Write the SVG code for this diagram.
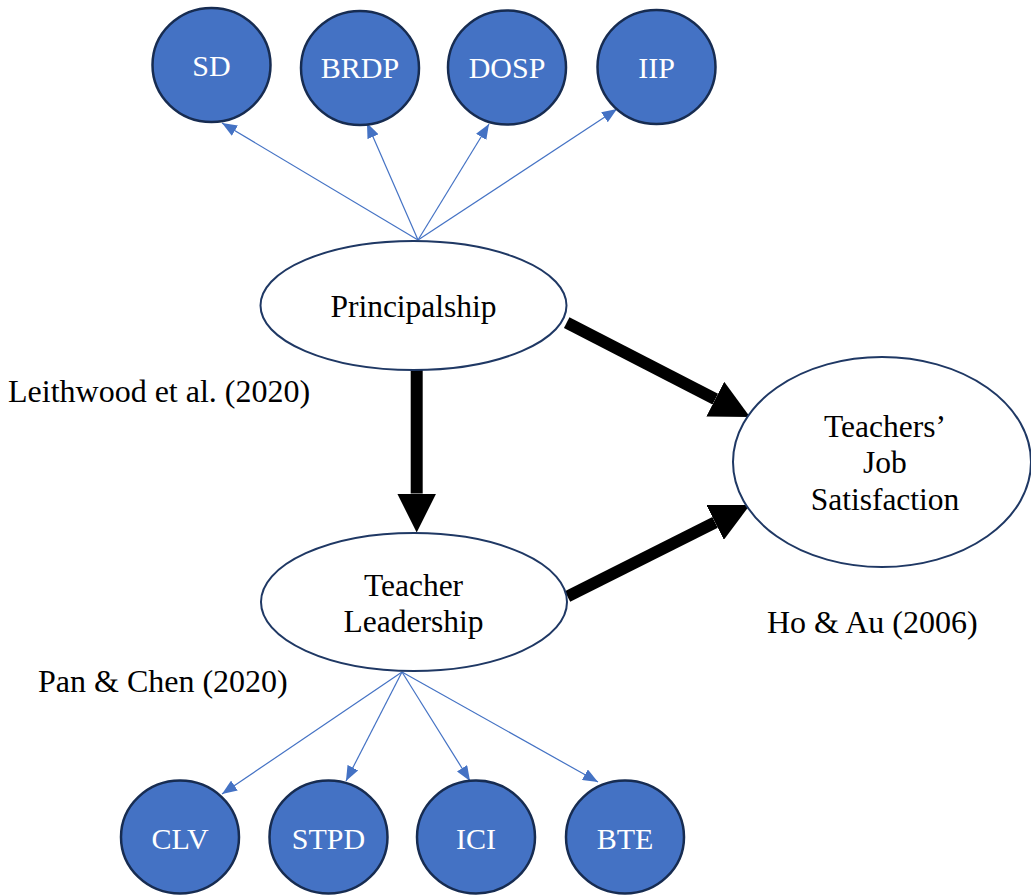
<svg xmlns="http://www.w3.org/2000/svg" width="1031" height="895" viewBox="0 0 1031 895">
  <style>
    .circ { fill: #4472C4; stroke: #172C51; stroke-width: 2.5; }
    .ell { fill: #FFFFFF; stroke: #1F3864; stroke-width: 2; }
    .ctext { font-family: 'Liberation Serif', 'Times New Roman', serif; font-size: 30px; fill: #FFFFFF; text-anchor: middle; }
    .etext { font-family: 'Liberation Serif', 'Times New Roman', serif; font-size: 31.5px; fill: #000000; text-anchor: middle; }
    .label { font-family: 'Liberation Serif', 'Times New Roman', serif; font-size: 32px; fill: #000000; }
    .thin { stroke: #4472C4; stroke-width: 1.2; fill: none; marker-end: url(#thinHead); }
    .thick { stroke: #000000; stroke-width: 12; fill: none; marker-end: url(#thickHead); }
  </style>
  <defs>
    <marker id="thinHead" markerUnits="userSpaceOnUse" viewBox="0 0 15 12" refX="15" refY="6" markerWidth="15" markerHeight="12" orient="auto">
      <path d="M0,0 L15,6 L0,12 Z" fill="#4472C4"/>
    </marker>
    <marker id="thickHead" markerUnits="userSpaceOnUse" viewBox="0 0 39 39" refX="0" refY="19.5" markerWidth="39" markerHeight="39" orient="auto">
      <path d="M0,0 L39,19.5 L0,39 Z" fill="#000000"/>
    </marker>
  </defs>

  <g id="connectors">
    <line class="thin" x1="418" y1="240" x2="222" y2="123"/>
    <line class="thin" x1="418" y1="240" x2="367" y2="123"/>
    <line class="thin" x1="418" y1="240" x2="489" y2="124"/>
    <line class="thin" x1="418" y1="240" x2="617" y2="109"/>
    <line class="thin" x1="402" y1="672" x2="222" y2="794"/>
    <line class="thin" x1="402" y1="672" x2="346" y2="781"/>
    <line class="thin" x1="402" y1="672" x2="470" y2="781"/>
    <line class="thin" x1="402" y1="672" x2="598" y2="782"/>
    <line class="thick" x1="416.7" y1="370" x2="416.7" y2="493.5"/>
    <line class="thick" x1="566.7" y1="322.7" x2="715.3" y2="399.1"/>
    <line class="thick" x1="567.5" y1="596.5" x2="715.1" y2="522.4"/>
  </g>

  <g id="node-SD">
    <ellipse class="circ" cx="211.5" cy="65" rx="59" ry="57"/>
    <text class="ctext" x="211.5" y="76">SD</text>
  </g>
  <g id="node-BRDP">
    <ellipse class="circ" cx="360" cy="68" rx="59" ry="57"/>
    <text class="ctext" x="360" y="78">BRDP</text>
  </g>
  <g id="node-DOSP">
    <ellipse class="circ" cx="507" cy="67.5" rx="59" ry="57"/>
    <text class="ctext" x="507" y="78">DOSP</text>
  </g>
  <g id="node-IIP">
    <ellipse class="circ" cx="656.5" cy="67" rx="59" ry="57"/>
    <text class="ctext" x="656.5" y="78">IIP</text>
  </g>

  <g id="node-principalship">
    <ellipse class="ell" cx="413.5" cy="305.5" rx="153" ry="64.5"/>
    <text class="etext" x="413.5" y="317">Principalship</text>
  </g>

  <g id="node-teacher-leadership">
    <ellipse class="ell" cx="414" cy="602" rx="153" ry="69"/>
    <text class="etext" x="413.5" y="596">Teacher</text>
    <text class="etext" x="413.5" y="632">Leadership</text>
  </g>

  <g id="node-job-satisfaction">
    <ellipse class="ell" cx="882" cy="462" rx="149" ry="105"/>
    <text class="etext" x="885" y="437">Teachers’</text>
    <text class="etext" x="885" y="473">Job</text>
    <text class="etext" x="885" y="510">Satisfaction</text>
  </g>

  <g id="node-CLV">
    <ellipse class="circ" cx="180" cy="837" rx="59" ry="56.5"/>
    <text class="ctext" x="180" y="849">CLV</text>
  </g>
  <g id="node-STPD">
    <ellipse class="circ" cx="328.5" cy="837" rx="59" ry="56.5"/>
    <text class="ctext" x="328.5" y="849">STPD</text>
  </g>
  <g id="node-ICI">
    <ellipse class="circ" cx="476" cy="837" rx="59" ry="56.5"/>
    <text class="ctext" x="476" y="849">ICI</text>
  </g>
  <g id="node-BTE">
    <ellipse class="circ" cx="625" cy="837" rx="59" ry="56.5"/>
    <text class="ctext" x="625" y="849">BTE</text>
  </g>

  <g id="labels">
    <text class="label" x="8" y="402">Leithwood et al. (2020)</text>
    <text class="label" x="38" y="692">Pan &amp; Chen (2020)</text>
    <text class="label" x="767" y="633">Ho &amp; Au (2006)</text>
  </g>
</svg>
